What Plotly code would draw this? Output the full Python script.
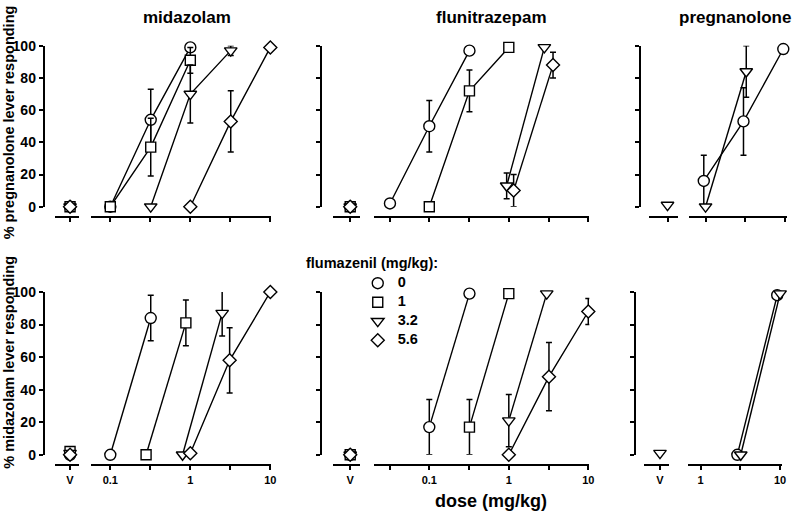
import math
import plotly.graph_objects as go

W, H = 800, 519
FONT = "Liberation Sans, Arial, sans-serif"

# ---------------- data ----------------
groups = ["0", "1", "3.2", "5.6"]          # flumazenil dose (mg/kg)
symbols = ["circle", "square", "triangle-down", "diamond"]

# panel titles / axis labels
col_titles = ["midazolam", "flunitrazepam", "pregnanolone"]
row_titles = ["% pregnanolone lever responding", "% midazolam lever responding"]
y_ticks = [0, 20, 40, 60, 80, 100]

# top-left: midazolam, pregnanolone-lever
mp_v = [0, 0, 0, 0]
mp0_x = [0.1, 0.32, 1.0];  mp0_y = [0, 54, 99];  mp0_e = [0, 19, 0]
mp1_x = [0.1, 0.32, 1.0];  mp1_y = [0, 37, 91];  mp1_e = [0, 18, 8]
mp2_x = [0.32, 1.0, 3.2];  mp2_y = [0, 70, 97];  mp2_e = [0, 18, 3]
mp3_x = [1.0, 3.2, 10];    mp3_y = [0, 53, 99];  mp3_e = [0, 19, 0]

# top-middle: flunitrazepam, pregnanolone-lever
fp_v = [0, 0, 0, 0]
fp0_x = [0.032, 0.1, 0.32]; fp0_y = [2, 50, 97];  fp0_e = [0, 16, 0]
fp1_x = [0.1, 0.32, 1.0];   fp1_y = [0, 72, 99];  fp1_e = [0, 13, 0]
fp2_x = [0.94, 2.8];        fp2_y = [13, 99];     fp2_e = [8, 0]
fp3_x = [1.15, 3.6];        fp3_y = [10, 88];     fp3_e = [10, 8]

# top-right: pregnanolone, pregnanolone-lever
pp_v = [None, None, 1, None]
pp0_x = [0.95, 3.0, 9.5];  pp0_y = [16, 53, 98];  pp0_e = [16, 21, 0]
pp2_x = [1.0, 3.25];       pp2_y = [0, 84];       pp2_e = [0, 16]

# bottom-left: midazolam, midazolam-lever
mm_v = [0, 2, 1, 0]
mm0_x = [0.1, 0.32];       mm0_y = [0, 84];       mm0_e = [0, 14]
mm1_x = [0.28, 0.88];      mm1_y = [0, 81];       mm1_e = [0, 14]
mm2_x = [0.8, 2.5];        mm2_y = [0, 87];       mm2_e = [0, 14]
mm3_x = [1.0, 3.1, 10];    mm3_y = [1, 58, 100];  mm3_e = [0, 20, 0]

# bottom-middle: flunitrazepam, midazolam-lever
fm_v = [0, 0, 0, 0]
fm0_x = [0.1, 0.32];       fm0_y = [17, 99];      fm0_e = [17, 0]
fm1_x = [0.32, 1.0];       fm1_y = [17, 99];      fm1_e = [17, 0]
fm2_x = [1.0, 3.0];        fm2_y = [21, 99];      fm2_e = [16, 0]
fm3_x = [1.0, 3.2, 10];    fm3_y = [0, 48, 88];   fm3_e = [0, 21, 8]

# bottom-right: pregnanolone, midazolam-lever
pm_v = [None, None, 1, None]
pm0_x = [2.9, 9.2];        pm0_y = [0, 98];       pm0_e = [0, 0]
pm2_x = [3.2, 10];         pm2_y = [0, 99];       pm2_e = [0, 0]

# ---------------- layout geometry (pixels) ----------------
def px_x(p):
    return p / W

def px_y(p):
    return 1 - p / H

panels = [
    dict(v=mp_v, series=[(mp0_x, mp0_y, mp0_e), (mp1_x, mp1_y, mp1_e), (mp2_x, mp2_y, mp2_e), (mp3_x, mp3_y, mp3_e)],
         yx=44, ydom=(205, 39), xline=216, vdom=(55, 79), mdom=(92, 273), mrange=(-1.236, 1.012),
         ticks=[0.1, 10**-0.5, 1, 10**0.5, 10], labels=["0.1", "", "1", "", "10"], ylab=True, xlab=False),
    dict(v=fp_v, series=[(fp0_x, fp0_y, fp0_e), (fp1_x, fp1_y, fp1_e), (fp2_x, fp2_y, fp2_e), (fp3_x, fp3_y, fp3_e)],
         yx=323, ydom=(205, 39), xline=216, vdom=(335, 362), mdom=(376, 593), mrange=(-1.7, 1.0125),
         ticks=[10**-1.5, 0.1, 10**-0.5, 1, 10**0.5, 10], labels=["", "0.1", "", "1", "", "10"], ylab=False, xlab=False),
    dict(v=pp_v, series=[(pp0_x, pp0_y, pp0_e), None, (pp2_x, pp2_y, pp2_e), None],
         yx=644, ydom=(205, 39), xline=216, vdom=(653, 682), mdom=(693, 792), mrange=(-0.2125, 1.025),
         ticks=[1, 10**0.5, 10], labels=["1", "", "10"], ylab=False, xlab=False),
    dict(v=mm_v, series=[(mm0_x, mm0_y, mm0_e), (mm1_x, mm1_y, mm1_e), (mm2_x, mm2_y, mm2_e), (mm3_x, mm3_y, mm3_e)],
         yx=44, ydom=(461, 293), xline=472, vdom=(55, 79), mdom=(92, 273), mrange=(-1.236, 1.012),
         ticks=[0.1, 10**-0.5, 1, 10**0.5, 10], labels=["0.1", "", "1", "", "10"], ylab=True, xlab=True),
    dict(v=fm_v, series=[(fm0_x, fm0_y, fm0_e), (fm1_x, fm1_y, fm1_e), (fm2_x, fm2_y, fm2_e), (fm3_x, fm3_y, fm3_e)],
         yx=323, ydom=(461, 293), xline=472, vdom=(335, 362), mdom=(376, 593), mrange=(-1.7, 1.0125),
         ticks=[10**-1.5, 0.1, 10**-0.5, 1, 10**0.5, 10], labels=["", "0.1", "", "1", "", "10"], ylab=False, xlab=True),
    dict(v=pm_v, series=[(pm0_x, pm0_y, pm0_e), None, (pm2_x, pm2_y, pm2_e), None],
         yx=639, ydom=(461, 293), xline=472, vdom=(648, 673), mdom=(692, 787), mrange=(-0.1625, 1.025),
         ticks=[1, 10**0.5, 10], labels=["1", "", "10"], ylab=False, xlab=True),
]

marker_sizes = [11, 10, 11, 10]
LW = 1.4

fig = go.Figure()
layout = {}
for i, P in enumerate(panels):
    nv, nm, ny = 2 * i + 1, 2 * i + 2, i + 1
    xv_ref = "x" if nv == 1 else f"x{nv}"
    xm_ref = f"x{nm}"
    y_ref = "y" if ny == 1 else f"y{ny}"
    ykey = "yaxis" if ny == 1 else f"yaxis{ny}"
    xvkey = "xaxis" if nv == 1 else f"xaxis{nv}"
    xmkey = f"xaxis{nm}"

    common_x = dict(anchor="free", position=px_y(P["xline"]), showgrid=False, zeroline=False,
                    showline=True, linecolor="black", linewidth=2, ticks="outside", ticklen=4,
                    tickwidth=2, tickcolor="black", side="bottom",
                    tickfont=dict(family=FONT, size=11, color="black", weight="bold"),
                    showticklabels=P["xlab"], fixedrange=True)
    layout[xvkey] = dict(common_x, domain=[px_x(P["vdom"][0]), px_x(P["vdom"][1])],
                         range=[-1, 0.55], tickmode="array", tickvals=[0], ticktext=["V"])
    layout[xmkey] = dict(common_x, domain=[px_x(P["mdom"][0]), px_x(P["mdom"][1])], type="log",
                         range=list(P["mrange"]), tickmode="array", tickvals=P["ticks"], ticktext=P["labels"])
    layout[ykey] = dict(anchor="free", position=px_x(P["yx"]), side="left",
                        domain=[px_y(P["ydom"][0]), px_y(P["ydom"][1])], range=[0, 100],
                        showgrid=False, zeroline=False, showline=True, linecolor="black", linewidth=2,
                        ticks="outside", ticklen=4, tickwidth=2, tickcolor="black",
                        tickmode="array", tickvals=y_ticks, showticklabels=P["ylab"],
                        tickfont=dict(family=FONT, size=14, color="black", weight="bold"), fixedrange=True)

    for g, ser in enumerate(P["series"]):
        mk = dict(symbol=symbols[g], size=marker_sizes[g], color="white",
                  line=dict(color="black", width=LW))
        if ser is not None:
            xs, ys, es = ser
            fig.add_trace(go.Scatter(
                x=xs, y=ys, xaxis=xm_ref, yaxis=y_ref, mode="lines+markers",
                line=dict(color="black", width=LW), marker=mk, cliponaxis=False, showlegend=False,
                error_y=dict(type="data", array=es, visible=True, color="black", thickness=1.5, width=3),
                hoverinfo="skip"))
        vval = P["v"][g]
        if vval is not None:
            fig.add_trace(go.Scatter(
                x=[0], y=[vval], xaxis=xv_ref, yaxis=y_ref, mode="markers", marker=mk,
                cliponaxis=False, showlegend=False, hoverinfo="skip"))

# legend entries (marker only)
for g in range(4):
    fig.add_trace(go.Scatter(
        x=[None], y=[None], xaxis="x", yaxis="y", mode="markers",
        name=f"<span style='font-size:14.5px'>{groups[g]}</span>",
        marker=dict(symbol=symbols[g], size=marker_sizes[g], color="white",
                    line=dict(color="black", width=LW)), showlegend=True))

annotations = []
title_x = [188, 495, 740]
for t, cx in zip(col_titles, title_x):
    annotations.append(dict(text=t, x=px_x(cx), y=px_y(10), xref="paper", yref="paper",
                            showarrow=False, xanchor="center", yanchor="middle",
                            font=dict(family=FONT, size=17, color="black", weight="bold")))
for t, cy in zip(row_titles, [118, 365]):
    annotations.append(dict(text=t, x=px_x(9), y=px_y(cy), xref="paper", yref="paper",
                            showarrow=False, xanchor="center", yanchor="middle", textangle=-90,
                            font=dict(family=FONT, size=14.5, color="black", weight="bold")))
annotations.append(dict(text="dose (mg/kg)", x=px_x(494), y=px_y(509), xref="paper", yref="paper",
                        showarrow=False, xanchor="center", yanchor="middle",
                        font=dict(family=FONT, size=18, color="black", weight="bold")))
annotations.append(dict(text="flumazenil (mg/kg):", x=px_x(306), y=px_y(263), xref="paper", yref="paper",
                        showarrow=False, xanchor="left", yanchor="middle",
                        font=dict(family=FONT, size=14.5, color="black", weight="bold")))

fig.update_layout(
    width=W, height=H, margin=dict(l=0, r=0, t=0, b=0),
    paper_bgcolor="white", plot_bgcolor="rgba(0,0,0,0)",
    font=dict(family=FONT, color="black"),
    annotations=annotations,
    showlegend=True,
    legend=dict(x=px_x(360), y=px_y(269), xanchor="left", yanchor="top",
                bgcolor="rgba(0,0,0,0)", tracegroupgap=0, itemwidth=30,
                font=dict(family=FONT, size=10.5, color="black", weight="bold")),
    **layout,
)

fig.write_html("out.html", config={"displayModeBar": False},
               post_script="document.body.style.margin='0';document.body.style.padding='0';")
